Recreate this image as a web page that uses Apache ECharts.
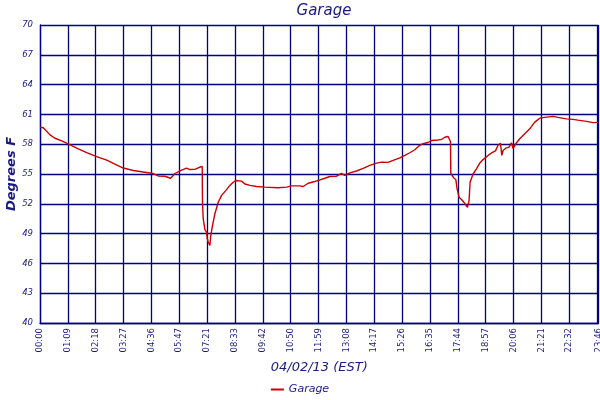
<!DOCTYPE html>
<html>
<head>
<meta charset="utf-8">
<script src="https://cdn.jsdelivr.net/npm/echarts@6/dist/echarts.min.js"></script>
<style>html,body{margin:0;padding:0;background:#fff;}#c{width:600px;height:400px;}</style>
</head>
<body>
<div id="c"></div>
<script>
// X tick labels (time of day), evenly spaced on the chart; last one sits at the final sample
const tickLabels = ["00:00","01:09","02:18","03:27","04:36","05:47","07:21","08:33","09:42","10:50",
  "11:59","13:08","14:17","15:26","16:35","17:44","18:57","20:06","21:21","22:32","23:44","23:46"];
// sample positions measured in tick intervals from 00:00
const positions = [0,0.118,0.359,0.538,0.779,1.015,1.317,1.676,2.034,2.393,2.691,2.989,3.348,3.706,4.065,4.245,4.485,4.690,4.844,5.084,
  5.264,5.382,5.562,5.741,5.802,5.823,5.834,5.859,5.920,5.981,6.003,6.039,6.100,6.125,6.182,6.279,6.398,6.520,6.674,6.817,
  6.936,7.033,7.237,7.356,7.535,7.775,8.073,8.550,8.852,9.031,9.329,9.447,9.627,9.867,10.047,10.226,10.405,10.646,10.825,10.944,
  11.123,11.364,11.600,11.841,12.081,12.260,12.497,12.677,12.917,13.096,13.276,13.455,13.610,13.753,13.933,14.055,14.291,14.413,14.532,14.650,
  14.711,14.736,14.747,14.794,14.855,14.927,14.973,15.045,15.131,15.214,15.285,15.346,15.404,15.440,15.547,15.669,15.788,15.906,16.086,16.208,
  16.351,16.444,16.531,16.577,16.624,16.721,16.839,16.925,16.983,17.080,17.223,17.402,17.582,17.761,17.941,18.120,18.418,18.597,18.899,19.135,
  19.314,19.616,19.853,20.032];
// Garage temperature, degrees F
const garageTemps = [59.7,59.65,58.94,58.6,58.33,58.03,57.6,57.16,56.75,56.4,56.0,55.6,55.35,55.2,55.05,54.8,54.77,54.57,55.05,55.4,
  55.6,55.45,55.47,55.7,55.8,55.75,52.1,50.5,49.4,49.15,48.5,48.15,47.8,48.7,49.65,51.0,52.15,52.85,53.35,53.85,
  54.17,54.34,54.28,53.99,53.85,53.74,53.68,53.62,53.68,53.8,53.8,53.74,54.07,54.25,54.4,54.57,54.75,54.78,55.07,54.85,
  55.12,55.3,55.57,55.87,56.1,56.2,56.17,56.37,56.63,56.87,57.14,57.44,57.85,58.05,58.17,58.37,58.43,58.47,58.7,58.78,
  58.7,58.27,55.1,54.85,54.6,54.45,53.5,52.67,52.43,52.16,52.0,51.65,52.33,54.17,55.0,55.52,56.1,56.45,56.87,57.12,
  57.33,57.9,58.08,56.87,57.37,57.6,57.7,58.14,57.55,58.05,58.55,59.05,59.55,60.22,60.62,60.7,60.8,60.7,60.55,60.5,
  60.42,60.3,60.17,60.2];
const xMax = 20.05;

const navy = '#000080';
const textNavy = '#1a1a80';
const font = 'DejaVu Sans';

const chart = echarts.init(document.getElementById('c'));
chart.setOption({
  animation: false,
  backgroundColor: '#ffffff',
  title: {
    text: 'Garage', left: 319, top: -1, textAlign: 'center',
    textStyle: { fontFamily: font, fontStyle: 'italic', fontWeight: 'normal', fontSize: 15, color: textNavy }
  },
  legend: {
    bottom: 0, left: 'center',
    data: ['Garage'],
    icon: 'rect', itemWidth: 13, itemHeight: 2, itemGap: 4,
    textStyle: { fontFamily: font, fontStyle: 'italic', fontSize: 11, color: textNavy }
  },
  grid: { left: 40, right: 1.5, top: 25, bottom: 77, containLabel: false, outerBoundsMode: 'none' },
  xAxis: {
    type: 'value', min: 0, max: xMax, interval: 1,
    name: '04/02/13 (EST)', nameLocation: 'middle', nameGap: 38,
    nameTextStyle: { fontFamily: font, fontStyle: 'italic', fontSize: 13, color: textNavy },
    axisLine: { show: true, lineStyle: { color: navy, width: 1.3 } },
    axisTick: { show: false },
    splitLine: { show: true, lineStyle: { color: navy, width: 1.3 } },
    axisLabel: {
      rotate: 90, margin: 5, showMaxLabel: true, showMinLabel: true, hideOverlap: false,
      fontFamily: font, fontSize: 8.5, color: textNavy,
      formatter: function (v) {
        if (v >= xMax - 0.001) return tickLabels[tickLabels.length - 1];
        return tickLabels[Math.round(v)];
      }
    }
  },
  yAxis: {
    type: 'value', min: 40, max: 70, interval: 3,
    name: 'Degrees F', nameLocation: 'middle', nameGap: 22, nameRotate: 90, nameMoveOverlap: false,
    nameTextStyle: { fontFamily: font, fontStyle: 'italic', fontWeight: 'bold', fontSize: 13, color: textNavy },
    axisLine: { show: true, lineStyle: { color: navy, width: 1.3 } },
    axisTick: { show: false },
    splitLine: { show: true, lineStyle: { color: navy, width: 1.3 } },
    axisLabel: { margin: 7, fontFamily: font, fontStyle: 'italic', fontSize: 8.5, color: textNavy }
  },
  series: [{
    name: 'Garage', type: 'line',
    data: positions.map((p, i) => [p, garageTemps[i]]),
    showSymbol: false, symbol: 'none',
    lineStyle: { color: '#cc0000', width: 1.4 },
    itemStyle: { color: '#cc0000' }
  }]
});
</script>
</body>
</html>
